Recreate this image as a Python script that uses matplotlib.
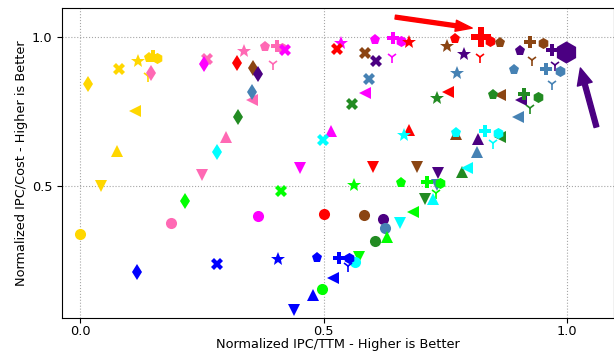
import numpy as np
import matplotlib.pyplot as plt

# one colour per series, one marker per configuration
colors = ["gold", "hotpink", "magenta", "red", "saddlebrown", "indigo",
          "steelblue", "forestgreen", "lime", "cyan", "blue"]
markers = ["o", "v", "^", "<", "d", "X", "*", "p", "P", "h", "1"]

# Normalized IPC/TTM (x), order follows markers
x_gold = [0.000, 0.043, 0.076, 0.113, 0.016, 0.080, 0.119, 0.142, 0.150, 0.158, 0.140]
x_hotpink = [0.187, 0.251, 0.300, 0.353, 0.146, 0.261, 0.337, 0.380, 0.405, 0.415, 0.396]
x_magenta = [0.365, 0.452, 0.515, 0.585, 0.255, 0.421, 0.536, 0.606, 0.643, 0.659, 0.641]
x_red = [0.501, 0.602, 0.676, 0.756, 0.322, 0.528, 0.676, 0.770, 0.823, 0.842, 0.821]
x_brown = [0.583, 0.692, 0.772, 0.862, 0.355, 0.585, 0.754, 0.862, 0.924, 0.951, 0.928]
x_indigo = [0.622, 0.735, 0.817, 0.906, 0.366, 0.608, 0.789, 0.904, 0.969, 0.998, 0.975]
x_steel = [0.626, 0.733, 0.815, 0.899, 0.353, 0.593, 0.774, 0.891, 0.957, 0.986, 0.969]
x_green = [0.606, 0.708, 0.784, 0.862, 0.324, 0.559, 0.733, 0.848, 0.912, 0.940, 0.924]
x_lime = [0.497, 0.573, 0.630, 0.684, 0.216, 0.413, 0.563, 0.659, 0.713, 0.739, 0.731]
x_cyan = [0.565, 0.657, 0.725, 0.795, 0.281, 0.499, 0.665, 0.772, 0.832, 0.858, 0.848]
x_blue = [np.nan, 0.439, 0.478, 0.520, 0.117, 0.281, 0.407, 0.487, 0.532, 0.552, 0.550]

# Normalized IPC/Cost (y)
y_gold = [0.339, 0.500, 0.617, 0.752, 0.842, 0.893, 0.919, 0.930, 0.936, 0.930, 0.869]
y_hotpink = [0.376, 0.537, 0.664, 0.789, 0.879, 0.926, 0.953, 0.966, 0.970, 0.963, 0.909]
y_magenta = [0.399, 0.560, 0.685, 0.812, 0.909, 0.956, 0.980, 0.990, 0.997, 0.987, 0.933]
y_red = [0.406, 0.564, 0.688, 0.815, 0.913, 0.960, 0.983, 0.993, 1.000, 0.987, 0.933]
y_brown = [0.403, 0.564, 0.674, 0.805, 0.896, 0.946, 0.970, 0.980, 0.983, 0.980, 0.923]
y_indigo = [0.389, 0.544, 0.658, 0.789, 0.876, 0.919, 0.943, 0.953, 0.956, 0.950, 0.906]
y_steel = [0.359, 0.503, 0.614, 0.732, 0.815, 0.859, 0.879, 0.889, 0.893, 0.886, 0.842]
y_green = [0.315, 0.456, 0.547, 0.664, 0.732, 0.775, 0.795, 0.805, 0.809, 0.799, 0.762]
y_lime = [0.154, 0.262, 0.329, 0.413, 0.450, 0.483, 0.503, 0.510, 0.513, 0.510, 0.477]
y_cyan = [0.245, 0.376, 0.456, 0.560, 0.614, 0.654, 0.671, 0.678, 0.685, 0.678, 0.644]
y_blue = [np.nan, 0.084, 0.134, 0.191, 0.211, 0.238, 0.255, 0.258, 0.258, 0.258, 0.232]

xs = [x_gold, x_hotpink, x_magenta, x_red, x_brown, x_indigo,
      x_steel, x_green, x_lime, x_cyan, x_blue]
ys = [y_gold, y_hotpink, y_magenta, y_red, y_brown, y_indigo,
      y_steel, y_green, y_lime, y_cyan, y_blue]

# highlighted best points: (series index, marker index)
best_cost = (3, 8)
best_ttm = (5, 9)

plt.rcParams["font.size"] = 9.3

fig = plt.figure(figsize=(6.14, 3.54), dpi=100)
ax = fig.add_axes([0.101, 0.102, 0.899, 0.875])

for c, xv, yv in zip(range(len(colors)), xs, ys):
    for m in range(len(markers)):
        ms = 10 if markers[m] == "*" else 8
        if (c, m) == best_cost:
            ms = 15
        elif (c, m) == best_ttm:
            ms = 16
        mew = 1.2 if markers[m] == "1" else 0
        ax.plot(xv[m], yv[m], linestyle="none", marker=markers[m],
                color=colors[c], markersize=ms, markeredgewidth=mew)

# arrows pointing at the best points
ax.annotate("", xy=(0.805, 1.030), xytext=(0.647, 1.067),
            arrowprops=dict(facecolor="red", edgecolor="red", width=2.8,
                            headwidth=8, headlength=12))
ax.annotate("", xy=(1.027, 0.896), xytext=(1.060, 0.698),
            arrowprops=dict(facecolor="indigo", edgecolor="indigo", width=3.5,
                            headwidth=11, headlength=12))

ax.set_xlim(-0.037, 1.096)
ax.set_ylim(0.057, 1.097)
ax.set_xticks([0.0, 0.5, 1.0])
ax.set_yticks([0.5, 1.0])
ax.tick_params(axis="x", pad=1.5)
ax.grid(color="gray", linestyle=":", linewidth=0.8, alpha=0.7)
ax.set_xlabel("Normalized IPC/TTM - Higher is Better", labelpad=0)
ax.set_ylabel("Normalized IPC/Cost - Higher is Better", labelpad=3)

fig.savefig("out.png", dpi=100)
